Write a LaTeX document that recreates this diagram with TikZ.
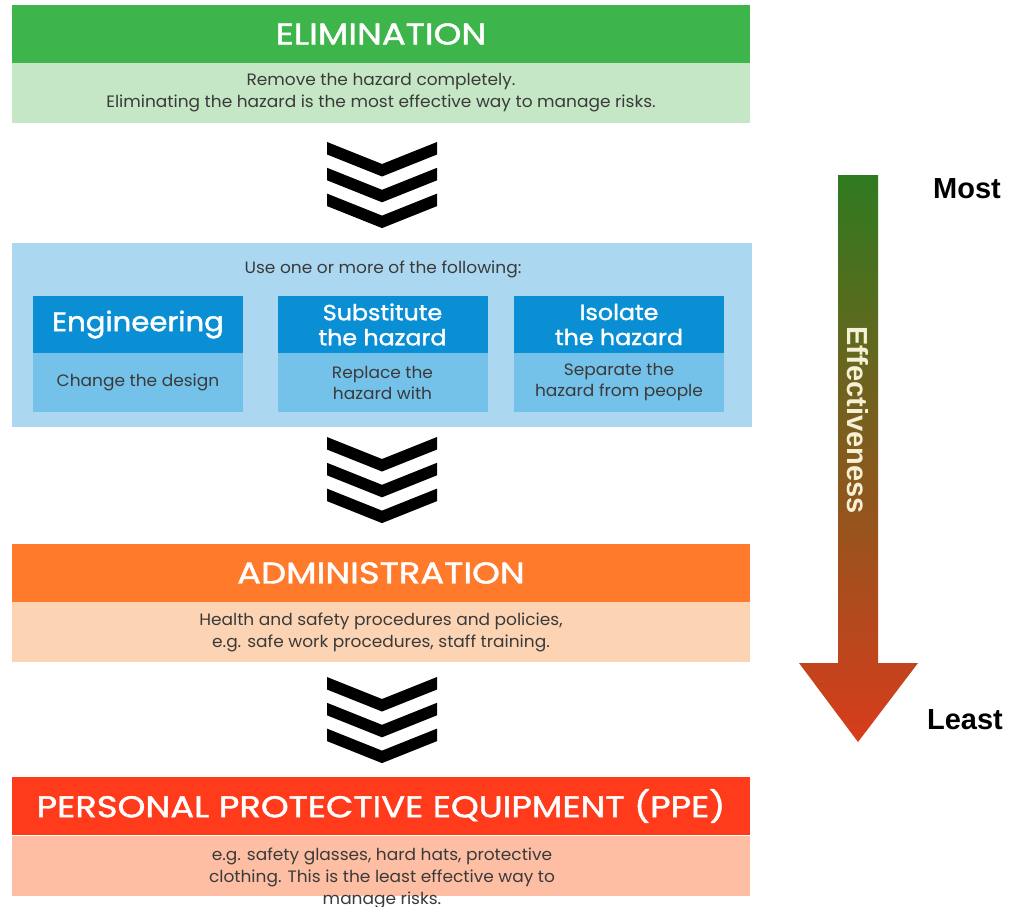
\documentclass[tikz,border=0pt]{standalone}
\usepackage{fontspec}
\setmainfont{Poppins}[FakeStretch=1.03]
\newfontfamily\hdfont{Poppins}[FakeBold=1.5, FakeStretch=1.18]
\newfontfamily\stfont{Poppins}[FakeBold=1.5, FakeStretch=1.08]
\newfontfamily\arialfont{Liberation Sans}
\definecolor{elimG}{HTML}{3DB54A}
\definecolor{elimL}{HTML}{C6E7C6}
\definecolor{midL}{HTML}{ABD8F0}
\definecolor{subH}{HTML}{0A8FD5}
\definecolor{subL}{HTML}{74C1E9}
\definecolor{admO}{HTML}{FF7A2B}
\definecolor{admL}{HTML}{FDD4B3}
\definecolor{ppeR}{HTML}{FF3B1C}
\definecolor{ppeL}{HTML}{FDBEA3}
\definecolor{txt}{HTML}{3A3A3A}
\definecolor{arTop}{HTML}{2F7A1F}
\definecolor{arMid}{HTML}{6A5A20}
\definecolor{arBot}{HTML}{D83C1C}
\definecolor{cream}{HTML}{F6F0D6}
\begin{document}
\begin{tikzpicture}[x=1pt,y=-1pt,
  hdr/.style={minimum width=738pt, minimum height=58pt, inner sep=0pt, text=white,
    font=\hdfont\fontsize{30}{34}\selectfont},
  bodybox/.style={minimum width=738pt, minimum height=60pt, inner sep=0pt, text=txt,
    align=center, font=\fontsize{16.5}{22}\selectfont},
  subhead/.style={minimum width=210pt, minimum height=57pt, inner sep=0pt, fill=subH,
    text=white, align=center, font=\stfont\fontsize{22}{25}\selectfont},
  subbody/.style={minimum width=210pt, minimum height=59pt, inner sep=0pt, fill=subL,
    text=txt, align=center, font=\fontsize{16.5}{21}\selectfont},
  sidelabel/.style={font=\arialfont\bfseries\fontsize{29}{32}\selectfont},
  chevrons/.pic={
    \foreach \k in {0,1,2}{
      \fill[black] (-55,\k*25.8) -- (0,\k*25.8+22) -- (55,\k*25.8)
        -- (55,\k*25.8+12.5) -- (0,\k*25.8+34.5) -- (-55,\k*25.8+12.5) -- cycle;
    }
  }]
\useasboundingbox[fill=white] (0,0) rectangle (1012,907);

% Elimination
\node[hdr, fill=elimG] (elimhead) at (381,34) {ELIMINATION};
\node[bodybox, fill=elimL] (elimbody) at (381,93)
  {Remove the hazard completely.\\Eliminating the hazard is the most effective way to manage risks.};

\pic (chevA) at (382,142) {chevrons};

% Engineering / substitution / isolation
\node[minimum width=740pt, minimum height=184pt, inner sep=0pt, fill=midL] (midbox) at (382,335) {};
\node[text=txt, font=\fontsize{16.5}{20}\selectfont] (midtitle) at (383,269) {Use one or more of the following:};

\node[subhead, font=\stfont\fontsize{27}{30}\selectfont] (enghead) at (138,324.5) {Engineering};
\node[subbody] (engbody) at (138,382.5) {Change the design};
\node[subhead] (subhead) at (382.5,324.5) {Substitute\\the hazard};
\node[subbody] (subbody) at (382.5,382.5) {Replace the\\hazard with};
\node[subhead] (isohead) at (619,324.5) {Isolate\\the hazard};
\node[subbody] (isobody) at (619,382.5) {Separate the\\hazard from people};

\pic (chevB) at (382,437) {chevrons};

% Administration
\node[hdr, fill=admO] (admhead) at (381,573) {ADMINISTRATION};
\node[bodybox, fill=admL] (admbody) at (381,632)
  {Health and safety procedures and policies,\\e.g. safe work procedures, staff training.};

\pic (chevC) at (382,677) {chevrons};

% PPE
\node[hdr, fill=ppeR] (ppehead) at (381,806) {PERSONAL PROTECTIVE EQUIPMENT (PPE)};
\node[bodybox, fill=ppeL] (ppebody) at (381,865.5) {};
\node[text=txt, align=center, font=\fontsize{16.5}{22}\selectfont] (ppetext) at (382,878.5)
  {e.g. safety glasses, hard hats, protective\\clothing. This is the least effective way to\\manage risks.};

% Effectiveness arrow
\shade[top color=arTop, middle color=arMid, bottom color=arBot]
  (838,175) -- (878,175) -- (878,663) -- (918,663) -- (858,742)
  -- (799,663) -- (838,663) -- cycle;
\node[rotate=-90, text=cream, font=\arialfont\bfseries\fontsize{29}{32}\selectfont]
  (eff) at (858,420) {Effectiveness};
\node[sidelabel] (most) at (967,189) {Most};
\node[sidelabel] (least) at (965,720) {Least};
\end{tikzpicture}
\end{document}
